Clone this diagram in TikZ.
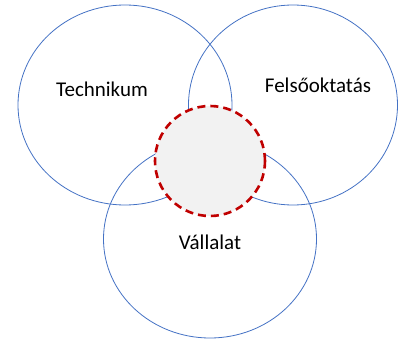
\documentclass[tikz,border=0pt]{standalone}
\usepackage{fontspec}
\setmainfont{Carlito}
\usetikzlibrary{shapes.geometric}
\definecolor{vennblue}{RGB}{68,114,196}
\definecolor{corered}{RGB}{192,0,0}
\definecolor{coregray}{RGB}{242,242,242}
\begin{document}
\begin{tikzpicture}[x=1pt,y=-1pt,
  venn/.style={draw=vennblue, line width=0.8pt, ellipse, inner sep=0pt},
  core/.style={draw=corered, fill=coregray, line width=2.6pt, dash pattern=on 8pt off 5pt, circle, inner sep=0pt},
  lbl/.style={font=\fontsize{21}{25}\selectfont, text=black}]
\useasboundingbox (0,0) rectangle (400,340);
\node[venn, minimum width=214pt, minimum height=200pt] (tech) at (125,105) {};
\node[venn, minimum width=209pt, minimum height=200pt] (fel) at (293,105) {};
\node[venn, minimum width=213pt, minimum height=198pt] (val) at (210,239) {};
\node[core, minimum size=110pt] (core) at (210,161) {};
\node[lbl] (t1) at (102,89) {Technikum};
\node[lbl] (t2) at (318,85) {Felsőoktatás};
\node[lbl] (t3) at (210,242) {Vállalat};
\end{tikzpicture}
\end{document}
